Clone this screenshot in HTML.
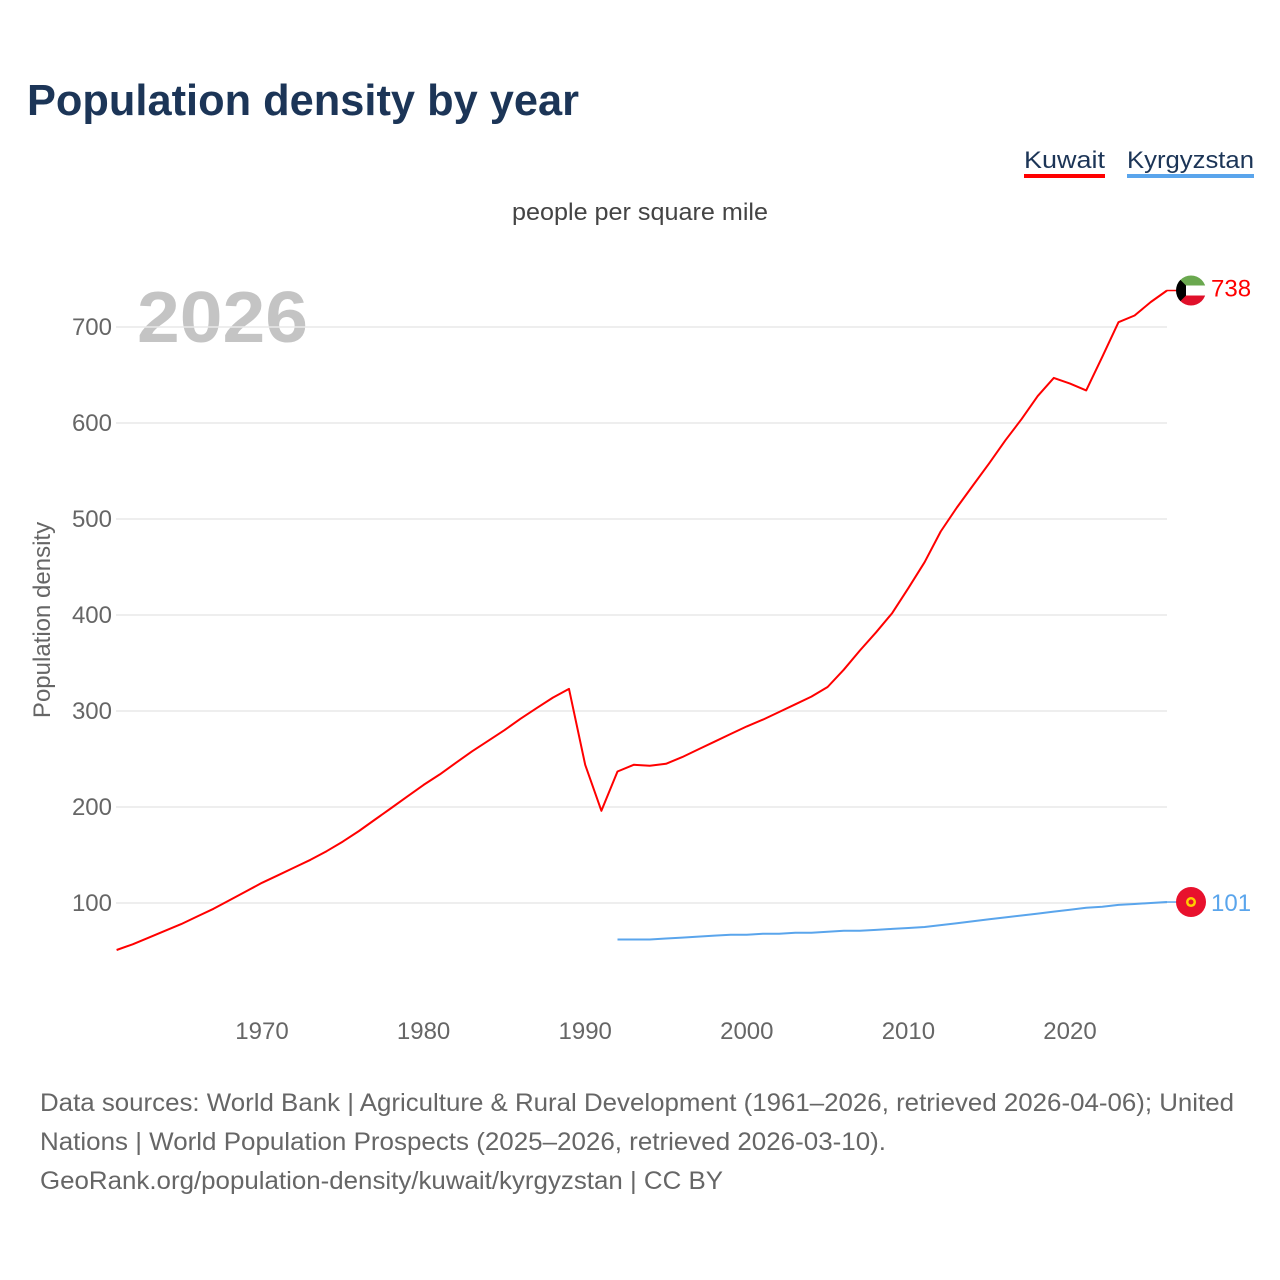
<!DOCTYPE html>
<html><head><meta charset="utf-8">
<style>
body{margin:0;background:#fff;font-family:"Liberation Sans",sans-serif;}
#wrap{position:relative;width:1280px;height:1280px;overflow:hidden;}
</style></head>
<body>
<div id="wrap">
<svg id="chart" width="1280" height="1280"></svg>
</div>
<script>
const years = [];
for (let y = 1961; y <= 2026; y++) years.push(y);
const kuwaitValues = [51,57,64,71,78,86,94,103,112,121,129,137,145,154,164,175,187,199,211,223,234,246,258,269,280,292,303,314,323,244,196,237,244,243,245,252,260,268,276,284,291,299,307,315,325,343,363,382,402,428,455,487,512,535,558,582,604,628,647,641,634,669,705,712,726,738];
const kyrYears = [];
for (let y = 1992; y <= 2026; y++) kyrYears.push(y);
const kyrValues = [62,62,62,63,64,65,66,67,67,68,68,69,69,70,71,71,72,73,74,75,77,79,81,83,85,87,89,91,93,95,96,98,99,100,101];
const yTicks = [100,200,300,400,500,600,700];
const xTicks = [1970,1980,1990,2000,2010,2020];

const NS = "http://www.w3.org/2000/svg";
const svg = document.getElementById('chart');
const xS = y => 262 + (y - 1970) * 16.16;
const yS = v => 903 - (v - 100) * 0.96;
function el(tag, attrs, text) {
  const e = document.createElementNS(NS, tag);
  for (const k in attrs) e.setAttribute(k, attrs[k]);
  if (text !== undefined) e.textContent = text;
  svg.appendChild(e);
  return e;
}
const F = '"Liberation Sans", sans-serif';
let t;
t = el('text', {x:27, y:115, 'font-size':44, 'font-weight':'bold', fill:'#1c3557', 'font-family':F, textLength:552, lengthAdjust:'spacingAndGlyphs'}, 'Population density by year');


t = el('text', {x:512, y:220, 'font-size':24, fill:'#444', 'font-family':F, textLength:256, lengthAdjust:'spacingAndGlyphs'}, 'people per square mile');


t = el('text', {x:137, y:342, 'font-size':72, 'font-weight':'bold', fill:'#c4c4c4', 'font-family':F, textLength:171, lengthAdjust:'spacingAndGlyphs'}, '2026');


// legend
t = el('text', {x:1024, y:168, 'font-size':24, fill:'#1c3557', 'font-family':F, textLength:81, lengthAdjust:'spacingAndGlyphs'}, 'Kuwait');


el('rect', {x:1024, y:174, width:81, height:4, fill:'#ff0000'});
t = el('text', {x:1127, y:168, 'font-size':24, fill:'#1c3557', 'font-family':F, textLength:127, lengthAdjust:'spacingAndGlyphs'}, 'Kyrgyzstan');


el('rect', {x:1127, y:174, width:127, height:4, fill:'#5aa5ec'});
// grid + y ticks
yTicks.forEach(v => {
  const g = el('line', {x1:116, x2:1167, y1:yS(v), y2:yS(v), stroke:'#e8e8e8', 'stroke-width':1.5});
  
  
  const l = el('text', {x:112, y:yS(v)+8, 'font-size':24, fill:'#666', 'text-anchor':'end', 'font-family':F}, v);
  
  
});
xTicks.forEach(v => {
  const l = el('text', {x:xS(v), y:1039, 'font-size':24, fill:'#666', 'text-anchor':'middle', 'font-family':F}, v);
  
  
});
t = el('text', {x:0, y:0, 'font-size':24, fill:'#666', 'text-anchor':'middle', 'font-family':F, transform:'translate(50,620) rotate(-90)'}, 'Population density');


// lines
function line(xs, vs, color, name) {
  const pts = xs.map((x, i) => xS(x).toFixed(1) + ',' + yS(vs[i]).toFixed(1)).join(' ');
  const p = el('polyline', {points:pts, fill:'none', stroke:color, 'stroke-width':2, 'stroke-linejoin':'round'});
  
  
  const last = vs[vs.length-1];
  el('line', {x1:xS(xs[xs.length-1]), x2:1180, y1:yS(last), y2:yS(last), stroke:color, 'stroke-width':1.5});
}
line(years, kuwaitValues, '#ff0000', 'kuwait-line');
line(kyrYears, kyrValues, '#5aa5ec', 'kyrgyzstan-line');
// flags
const kl = kuwaitValues[kuwaitValues.length-1], yk = yS(kl);
const defs = el('defs', {});
const cp = document.createElementNS(NS, 'clipPath'); cp.setAttribute('id', 'kc');
const cc = document.createElementNS(NS, 'circle'); cc.setAttribute('cx', 1191); cc.setAttribute('cy', yk); cc.setAttribute('r', 15);
cp.appendChild(cc); defs.appendChild(cp);
const fg = document.createElementNS(NS, 'g'); fg.setAttribute('clip-path', 'url(#kc)'); svg.appendChild(fg);


[['#6aa84f',-15],['#ffffff',-5],['#e0102a',5]].forEach(([c,o]) => {
  const r = document.createElementNS(NS, 'rect');
  r.setAttribute('x', 1176); r.setAttribute('y', yk+o); r.setAttribute('width', 30); r.setAttribute('height', 10); r.setAttribute('fill', c);
  fg.appendChild(r);
});
const tr = document.createElementNS(NS, 'polygon');
tr.setAttribute('points', `1176,${yk-15} 1186,${yk-5} 1186,${yk+5} 1176,${yk+15}`); tr.setAttribute('fill', '#000');
fg.appendChild(tr);
t = el('text', {x:1211, y:yk+6, 'font-size':24, fill:'#ff0000', 'font-family':F}, kl);


const gl = kyrValues[kyrValues.length-1], yg = yS(gl);
const kf = el('circle', {cx:1191, cy:yg, r:15, fill:'#e8112d'});


el('circle', {cx:1191, cy:yg, r:5, fill:'#ffcc00'});
el('circle', {cx:1191, cy:yg, r:2.5, fill:'#e8112d'});
t = el('text', {x:1211, y:yg+9, 'font-size':24, fill:'#5aa5ec', 'font-family':F}, gl);


// footer
const footLines = ['Data sources: World Bank | Agriculture & Rural Development (1961–2026, retrieved 2026-04-06); United',
 'Nations | World Population Prospects (2025–2026, retrieved 2026-03-10).',
 'GeoRank.org/population-density/kuwait/kyrgyzstan | CC BY'];
const footWidths = [1194, 846, 683];
footLines.forEach((s, i) => {
  const f = el('text', {x:40, y:1111 + i*39, 'font-size':25, fill:'#666', 'font-family':F, textLength:footWidths[i], lengthAdjust:'spacingAndGlyphs'}, s);
  
  
});
</script>
</body></html>
